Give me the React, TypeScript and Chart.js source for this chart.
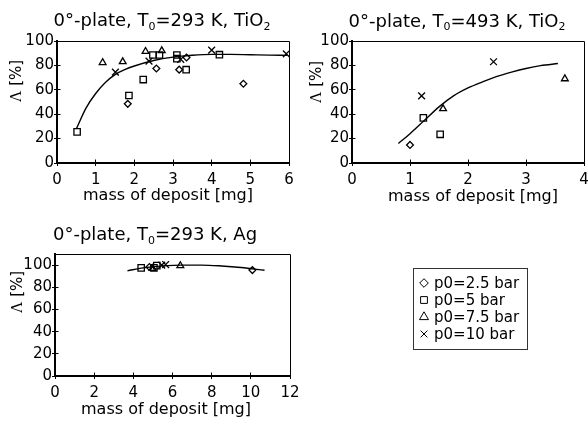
import React, { useEffect, useRef } from 'react';
import { Chart, registerables } from 'chart.js';
import { drawPoint } from 'chart.js/helpers';

Chart.register(...registerables);

const SANS = "'DejaVu Sans', 'Liberation Sans', sans-serif";
const SERIF = "'Liberation Serif', 'DejaVu Serif', serif";

// ---------- Panel 1: 0°-plate, T0=293 K, TiO2 ----------
const p1DiamondX = [1.83, 2.57, 3.16, 3.35, 4.82];
const p1DiamondY = [48.5, 77.5, 76.5, 86.5, 65];
const p1SquareX = [0.52, 1.86, 2.23, 2.48, 2.65, 3.1, 3.1, 3.34, 4.2];
const p1SquareY = [25.5, 55.3, 68.4, 88.5, 88.5, 88.5, 85.5, 76.5, 88.8];
const p1TriangleX = [1.18, 1.7, 2.29, 2.71];
const p1TriangleY = [82.3, 83, 91.5, 92];
const p1CrossX = [1.51, 2.38, 3.2, 4.0, 5.93];
const p1CrossY = [74.5, 83.5, 85, 92.5, 89.5];
const p1FitX = [0.5, 0.75, 1, 1.25, 1.5, 1.75, 2, 2.5, 3, 3.5, 4, 4.5, 5, 5.5, 5.95];
const p1FitY = [28, 45, 57, 66, 72.5, 76.5, 79.5, 84, 86.8, 88.3, 89, 89, 88.7, 88.4, 88.2];

// ---------- Panel 2: 0°-plate, T0=493 K, TiO2 ----------
const p2DiamondX = [1.0];
const p2DiamondY = [14.8];
const p2SquareX = [1.23, 1.52];
const p2SquareY = [37, 23.5];
const p2TriangleX = [1.57, 3.67];
const p2TriangleY = [44.5, 69];
const p2CrossX = [1.2, 2.44];
const p2CrossY = [55, 83];
const p2FitX = [0.8, 1.0, 1.25, 1.5, 1.75, 2.0, 2.25, 2.5, 2.75, 3.0, 3.25, 3.55];
const p2FitY = [16, 24, 35, 46, 55, 61.5, 66.5, 71, 74.5, 77.5, 79.8, 81.5];

// ---------- Panel 3: 0°-plate, T0=293 K, Ag ----------
const p3DiamondX = [4.82, 10.08];
const p3DiamondY = [98.3, 95.5];
const p3SquareX = [4.4, 5.05, 5.2];
const p3SquareY = [97.5, 97.5, 99.5];
const p3TriangleX = [4.98, 6.4];
const p3TriangleY = [97, 99.5];
const p3CrossX = [5.45, 5.65];
const p3CrossY = [100, 100.5];
const p3FitX = [3.7, 4.5, 5.5, 6.5, 7.5, 8.5, 9.5, 10.7];
const p3FitY = [94.8, 97.5, 99.3, 100, 100, 99.2, 97.8, 95.3];

// ---------- Axes / labels ----------
const xAxisTitle = 'mass of deposit [mg]';
const yAxisSymbol = 'Λ';
const yAxisUnit = ' [%]';
const legendLabels = ['p0=2.5 bar', 'p0=5 bar', 'p0=7.5 bar', 'p0=10 bar'];
const titleParts1 = [['0°-plate, T', false], ['0', true], ['=293 K, TiO', false], ['2', true]];
const titleParts2 = [['0°-plate, T', false], ['0', true], ['=493 K, TiO', false], ['2', true]];
const titleParts3 = [['0°-plate, T', false], ['0', true], ['=293 K, Ag', false]];

// marker styles (diamond, square, triangle, cross)
const markerStyles = ['rectRot', 'rect', 'triangle', 'crossRot'];
const markerRadii = [3.4, 4.5, 3.9, 4.8];
const legendRadii = [4.3, 4.8, 5.2, 4.8];

const pts = (xs: number[], ys: number[]) => xs.map((x, i) => ({ x, y: ys[i] }));

function makeDatasets(series: [number[], number[]][], fit: [number[], number[]]) {
  const ds: any[] = series.map(([xs, ys], i) => ({
    label: legendLabels[i],
    data: pts(xs, ys),
    pointStyle: markerStyles[i],
    pointRadius: markerRadii[i],
    pointBorderWidth: 1.3,
    pointBorderColor: '#000',
    pointBackgroundColor: 'rgba(255,255,255,0)',
    borderColor: '#000',
    backgroundColor: 'rgba(255,255,255,0)',
    showLine: false,
  }));
  ds.push({
    label: 'fit',
    data: pts(fit[0], fit[1]),
    showLine: true,
    pointRadius: 0,
    borderColor: '#000',
    borderWidth: 1.4,
    cubicInterpolationMode: 'monotone',
    fill: false,
  });
  return ds;
}

function drawParts(ctx: CanvasRenderingContext2D, parts: any[], x: number, y: number, size: number) {
  const sub = Math.round(size * 0.62);
  const widths = parts.map(([t, isSub]) => {
    ctx.font = `${isSub ? sub : size}px ${SANS}`;
    return ctx.measureText(t).width;
  });
  const total = widths.reduce((a, b) => a + b, 0);
  let cx = x - total / 2;
  ctx.textAlign = 'left';
  ctx.textBaseline = 'alphabetic';
  parts.forEach(([t, isSub], i) => {
    ctx.font = `${isSub ? sub : size}px ${SANS}`;
    ctx.fillText(t, cx, isSub ? y + size * 0.22 : y);
    cx += widths[i];
  });
}

const decoPlugin = {
  id: 'deco',
  afterDraw(chart: any, _args: any, opts: any) {
    const { ctx, chartArea: a } = chart;
    const xs = chart.scales.x;
    const ys = chart.scales.y;
    ctx.save();
    ctx.strokeStyle = '#000';
    ctx.fillStyle = '#000';
    ctx.lineWidth = 1;
    // top and right frame
    const top = Math.round(a.top) + 0.5;
    const right = Math.round(a.right) + 0.5;
    ctx.beginPath();
    ctx.moveTo(a.left, top);
    ctx.lineTo(right, top);
    ctx.lineTo(right, a.bottom);
    ctx.stroke();
    // inner halves of tick marks
    ctx.beginPath();
    ys.ticks.forEach((t: any) => {
      const y = Math.round(ys.getPixelForValue(t.value) - 0.5) + 0.5;
      ctx.moveTo(a.left, y);
      ctx.lineTo(a.left + 3.5, y);
    });
    xs.ticks.forEach((t: any) => {
      const x = Math.round(xs.getPixelForValue(t.value) - 0.5) + 0.5;
      ctx.moveTo(x, a.bottom);
      ctx.lineTo(x, a.bottom - 3.5);
    });
    ctx.stroke();
    // title
    drawParts(ctx, opts.title, opts.titleX, opts.titleY, 18);
    // x axis title
    ctx.font = `16px ${SANS}`;
    ctx.textAlign = 'center';
    ctx.textBaseline = 'alphabetic';
    ctx.fillText(xAxisTitle, opts.xTitleX, opts.xTitleY);
    // y axis title (rotated)
    ctx.save();
    ctx.translate(opts.yTitleX, opts.yTitleY);
    ctx.rotate(-Math.PI / 2);
    ctx.font = `16px ${SERIF}`;
    const w1 = ctx.measureText(yAxisSymbol).width;
    ctx.font = `15px ${SANS}`;
    const w2 = ctx.measureText(yAxisUnit).width;
    const sx = -(w1 + w2) / 2;
    ctx.textAlign = 'left';
    ctx.font = `16px ${SERIF}`;
    ctx.fillText(yAxisSymbol, sx, 0);
    ctx.font = `15px ${SANS}`;
    ctx.fillText(yAxisUnit, sx + w1, 0);
    ctx.restore();
    // legend box
    if (opts.legend) {
      const L = opts.legend;
      ctx.lineWidth = 1;
      ctx.strokeStyle = '#333';
      ctx.strokeRect(L.x + 0.5, L.y + 0.5, L.w, L.h);
      ctx.font = `15px ${SANS}`;
      ctx.textAlign = 'left';
      ctx.textBaseline = 'middle';
      legendLabels.forEach((lab, i) => {
        const cy = L.rowY + i * L.rowH;
        ctx.strokeStyle = '#000';
        ctx.fillStyle = 'rgba(255,255,255,0)';
        drawPoint(ctx, { pointStyle: markerStyles[i], radius: legendRadii[i], rotation: 0, borderWidth: 1.3 } as any, L.markX, cy);
        ctx.fillStyle = '#000';
        ctx.fillText(lab, L.textX, cy + 1);
      });
    }
    ctx.restore();
  },
};

interface PanelSpec {
  left: number; top: number; width: number; height: number;
  padTop: number; padRight: number; yWidth: number; xHeight: number;
  xMax: number; xStep: number; yMax: number;
  datasets: any[];
  deco: any;
}

function makeConfig(p: PanelSpec): any {
  const tickFont = { family: SANS, size: 15 };
  return {
    type: 'scatter',
    data: { datasets: p.datasets },
    options: {
      animation: false,
      responsive: false,
      devicePixelRatio: 1,
      events: [],
      layout: { padding: { left: 0, top: p.padTop, right: p.padRight, bottom: 0 } },
      plugins: {
        legend: { display: false },
        tooltip: { enabled: false },
        title: { display: false },
        deco: p.deco,
      },
      scales: {
        x: {
          type: 'linear',
          min: 0,
          max: p.xMax,
          ticks: { stepSize: p.xStep, includeBounds: false, font: tickFont, color: '#000', padding: 5, maxRotation: 0, autoSkip: false },
          grid: { drawOnChartArea: false, drawTicks: true, tickLength: 3, color: '#000', lineWidth: 1 },
          border: { display: true, color: '#000', width: 2 },
          afterFit: (s: any) => { s.height = p.xHeight; },
        },
        y: {
          type: 'linear',
          min: 0,
          max: p.yMax,
          ticks: { stepSize: 20, includeBounds: false, font: tickFont, color: '#000', padding: 0, autoSkip: false },
          grid: { drawOnChartArea: false, drawTicks: true, tickLength: 3, color: '#000', lineWidth: 1 },
          border: { display: true, color: '#000', width: 2 },
          afterFit: (s: any) => { s.width = p.yWidth; },
        },
      },
    },
    plugins: [decoPlugin],
  };
}

function Panel({ spec }: { spec: PanelSpec }) {
  const ref = useRef<HTMLCanvasElement>(null);
  useEffect(() => {
    const chart = new Chart(ref.current as HTMLCanvasElement, makeConfig(spec));
    return () => chart.destroy();
  }, []);
  return (
    <canvas
      ref={ref}
      width={spec.width}
      height={spec.height}
      style={{ position: 'absolute', left: spec.left, top: spec.top, width: spec.width, height: spec.height }}
    />
  );
}

const panel1: PanelSpec = {
  left: 0, top: 0, width: 300, height: 212,
  padTop: 41, padRight: 11, yWidth: 57, xHeight: 49,
  xMax: 6, xStep: 1, yMax: 100,
  datasets: makeDatasets(
    [[p1DiamondX, p1DiamondY], [p1SquareX, p1SquareY], [p1TriangleX, p1TriangleY], [p1CrossX, p1CrossY]],
    [p1FitX, p1FitY]
  ),
  deco: { title: titleParts1, titleX: 162, titleY: 26, xTitleX: 168, xTitleY: 200, yTitleX: 21, yTitleY: 81 },
};

const panel2: PanelSpec = {
  left: 300, top: 0, width: 300, height: 212,
  padTop: 41, padRight: 16, yWidth: 52, xHeight: 49,
  xMax: 4, xStep: 1, yMax: 100,
  datasets: makeDatasets(
    [[p2DiamondX, p2DiamondY], [p2SquareX, p2SquareY], [p2TriangleX, p2TriangleY], [p2CrossX, p2CrossY]],
    [p2FitX, p2FitY]
  ),
  deco: { title: titleParts2, titleX: 157, titleY: 26.5, xTitleX: 173, xTitleY: 201, yTitleX: 21, yTitleY: 82 },
};

const panel3: PanelSpec = {
  left: 0, top: 212, width: 588, height: 211,
  padTop: 42, padRight: 298, yWidth: 55, xHeight: 47,
  xMax: 12, xStep: 2, yMax: 110,
  datasets: makeDatasets(
    [[p3DiamondX, p3DiamondY], [p3SquareX, p3SquareY], [p3TriangleX, p3TriangleY], [p3CrossX, p3CrossY]],
    [p3FitX, p3FitY]
  ),
  deco: {
    title: titleParts3, titleX: 155, titleY: 28, xTitleX: 166, xTitleY: 202, yTitleX: 22, yTitleY: 80,
    legend: { x: 413, y: 56, w: 114, h: 81, markX: 424, textX: 434, rowY: 71, rowH: 17 },
  },
};

export default function App() {
  return (
    <div style={{ position: 'fixed', left: 0, top: 0, width: 588, height: 423, overflow: 'hidden', background: '#fff' }}>
      <Panel spec={panel1} />
      <Panel spec={panel2} />
      <Panel spec={panel3} />
    </div>
  );
}
